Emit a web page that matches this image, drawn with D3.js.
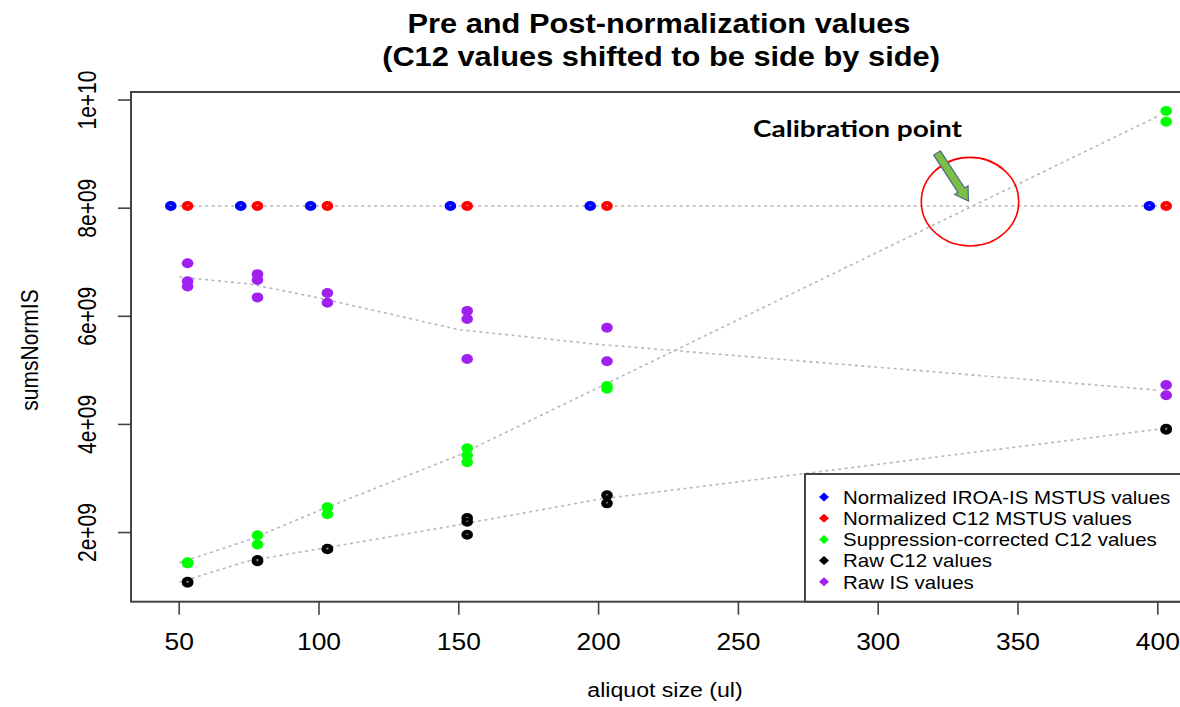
<!DOCTYPE html>
<html>
<head>
<meta charset="utf-8">
<script src="https://cdn.jsdelivr.net/npm/d3@7"></script>
<style>
  html, body { margin: 0; padding: 0; background: #fff; }
  svg { display: block; font-family: "Liberation Sans", Arial, sans-serif; }
</style>
</head>
<body>
<svg id="chart" width="1180" height="707"></svg>
<script>
// ---------------- data ----------------
const xValues = [50, 75, 100, 150, 200, 400];
const shiftIS = -3;   // IROA-IS points drawn shifted left
const shiftC12 = 3;   // C12 points drawn shifted right

const normIROA = [8.04e9, 8.04e9, 8.04e9, 8.04e9, 8.04e9, 8.04e9];
const normC12  = [8.04e9, 8.04e9, 8.04e9, 8.04e9, 8.04e9, 8.04e9];
const supprC12 = [[1.43e9, 1.45e9], [1.95e9, 1.78e9], [2.47e9, 2.34e9], [3.56e9, 3.43e9, 3.30e9], [4.71e9, 4.66e9], [9.80e9, 9.60e9]];
const rawC12   = [[1.07e9, 1.09e9], [1.47e9, 1.49e9], [1.69e9, 1.70e9], [2.27e9, 2.20e9, 1.96e9], [2.69e9, 2.54e9], [3.90e9, 3.92e9]];
const rawIS    = [[6.98e9, 6.65e9, 6.55e9], [6.78e9, 6.67e9, 6.35e9], [6.43e9, 6.25e9], [6.10e9, 5.95e9, 5.21e9], [5.79e9, 5.17e9], [4.73e9, 4.54e9]];

const xTicks = [50, 100, 150, 200, 250, 300, 350, 400];
const yTicks = [2e9, 4e9, 6e9, 8e9, 1e10];
const yTickLabels = ["2e+09", "4e+09", "6e+09", "8e+09", "1e+10"];

const legendLabels = ["Normalized IROA-IS MSTUS values", "Normalized C12 MSTUS values", "Suppression-corrected C12 values", "Raw C12 values", "Raw IS values"];
const legendColors = ["#0000FF", "#FF0000", "#00FF00", "#000000", "#A020F0"];

const titleLines = ["Pre and Post-normalization values", "(C12 values shifted to be side by side)"];
const xLabel = "aliquot size (ul)";
const yLabel = "sumsNormIS";
const annotation = "Calibration point";
const calibX = 333, calibY = 8.04e9;

// ---------------- layout ----------------
const SX = 1.1; // horizontal stretch of the reference picture
const plot = { left: 131, right: 1206, top: 92, bottom: 601.7 };

const svg = d3.select("#chart");

// R-like 4% padded domains
const allPointX = xValues.map(v => v + shiftIS).concat(xValues.map(v => v + shiftC12));
const allY = normIROA.concat(normC12, supprC12.flat(), rawC12.flat(), rawIS.flat());
function padExtent(arr) {
  const e = d3.extent(arr); const p = (e[1] - e[0]) * 0.04; return [e[0] - p, e[1] + p];
}
const x = d3.scaleLinear().domain(padExtent(allPointX)).range([plot.left, plot.right]);
const y = d3.scaleLinear().domain(padExtent(allY)).range([plot.bottom, plot.top]);

function stext(g, str, px, py, opts = {}) {
  const sx = opts.sx || SX;
  const t = g.append("text")
    .attr("transform", `translate(${px},${py}) scale(${sx},1)` + (opts.rotate ? ` rotate(${opts.rotate})` : ""))
    .attr("text-anchor", opts.anchor || "middle")
    .attr("font-size", opts.size || 20)
    .attr("font-weight", opts.weight || "normal")
    .attr("fill", opts.fill || "#000")
    .text(str);
  if (opts.family) t.attr("font-family", opts.family);
  return t;
}

// ---------------- guide lines (means) ----------------
const lineColor = "#b8b8b8";
const dash = "3,3.5";
const line = d3.line().x(d => x(d[0])).y(d => y(d[1]));
const meanSeries = [
  xValues.map((v, i) => [v, (normIROA[i] + normC12[i]) / 2]),
  xValues.map((v, i) => [v, d3.mean(supprC12[i])]),
  xValues.map((v, i) => [v, d3.mean(rawC12[i])]),
  xValues.map((v, i) => [v, d3.mean(rawIS[i])])
];
const clipId = "plotclip";
svg.append("clipPath").attr("id", clipId).append("rect")
  .attr("x", plot.left).attr("y", plot.top).attr("width", plot.right - plot.left).attr("height", plot.bottom - plot.top);
const gLines = svg.append("g").attr("clip-path", `url(#${clipId})`);
meanSeries.forEach(s => {
  gLines.append("path").attr("d", line(s)).attr("fill", "none")
    .attr("stroke", lineColor).attr("stroke-width", 1.6).attr("stroke-dasharray", dash);
});

// ---------------- points ----------------
const gPts = svg.append("g");
function drawPoints(values, shift, color, spot) {
  const pts = [];
  values.forEach((v, i) => {
    (Array.isArray(v) ? v : [v]).forEach(val => pts.push([xValues[i] + shift, val]));
  });
  gPts.selectAll(null).data(pts).enter().append("ellipse")
    .attr("cx", d => x(d[0])).attr("cy", d => y(d[1]))
    .attr("rx", 5.8).attr("ry", 5.0).attr("fill", color);
  if (spot) {
    gPts.selectAll(null).data(pts).enter().append("ellipse")
      .attr("cx", d => x(d[0])).attr("cy", d => y(d[1]) - 0.5)
      .attr("rx", 1.3).attr("ry", 0.8).attr("fill", "#fff").attr("opacity", 0.45);
  }
}
drawPoints(rawIS, shiftC12, legendColors[4], false);
drawPoints(supprC12, shiftC12, legendColors[2], false);
drawPoints(rawC12, shiftC12, legendColors[3], true);
drawPoints(normIROA, shiftIS, legendColors[0], true);
drawPoints(normC12, shiftC12, legendColors[1], true);

// ---------------- frame & axes ----------------
const frameColor = "#444";
svg.append("rect").attr("x", plot.left).attr("y", plot.top)
  .attr("width", plot.right - plot.left).attr("height", plot.bottom - plot.top)
  .attr("fill", "none").attr("stroke", frameColor).attr("stroke-width", 2);

const gx = svg.append("g");
xTicks.forEach(t => {
  gx.append("line").attr("x1", x(t)).attr("x2", x(t)).attr("y1", plot.bottom).attr("y2", plot.bottom + 13)
    .attr("stroke", frameColor).attr("stroke-width", 1.6);
  stext(gx, String(t), x(t), 650, { size: 24 });
});
const gy = svg.append("g");
yTicks.forEach((t, i) => {
  gy.append("line").attr("x1", plot.left - 13).attr("x2", plot.left).attr("y1", y(t)).attr("y2", y(t))
    .attr("stroke", frameColor).attr("stroke-width", 1.6);
  stext(gy, yTickLabels[i], 96, y(t), { size: 21, rotate: -90, sx: 1.25 });
});

// axis titles
stext(svg, xLabel, 665, 697, { size: 21 });
stext(svg, yLabel, 38, 350, { size: 21, rotate: -90 });

// title
stext(svg, titleLines[0], 659, 33, { size: 28, weight: "bold" });
stext(svg, titleLines[1], 661, 66, { size: 28, weight: "bold" });

// ---------------- legend ----------------
const lg = svg.append("g");
lg.append("rect").attr("x", 805).attr("y", 474).attr("width", 400).attr("height", plot.bottom - 474)
  .attr("fill", "#fff").attr("stroke", frameColor).attr("stroke-width", 2);
legendLabels.forEach((lab, i) => {
  const cy = 497 + i * 21.2;
  lg.append("path").attr("d", `M824,${cy - 4.5}L829,${cy}L824,${cy + 4.5}L819,${cy}Z`).attr("fill", legendColors[i]);
  stext(lg, lab, 843, cy + 6.8, { size: 18.6, anchor: "start" });
});

// ---------------- annotation ----------------
const ga = svg.append("g");
ga.append("text").attr("x", 753).attr("y", 137).attr("font-family", "Lato, 'Open Sans', sans-serif")
  .attr("font-weight", "bold").attr("font-size", 23).attr("textLength", 209).attr("lengthAdjust", "spacingAndGlyphs")
  .text(annotation);
ga.append("ellipse").attr("cx", 970).attr("cy", 201.7).attr("rx", 48.7).attr("ry", 44.3)
  .attr("fill", "none").attr("stroke", "#FF0000").attr("stroke-width", 1.6);
// block arrow pointing at the calibration point
(function () {
  const tip = [x(calibX) - 2, y(calibY) - 5];
  const tail = [937, 153];
  const dx = tip[0] - tail[0], dy = tip[1] - tail[1];
  const L = Math.hypot(dx, dy), ux = dx / L, uy = dy / L, nx = -uy, ny = ux;
  const sw = 4, hw = 8, hl = 13;
  const b = [tip[0] - ux * hl, tip[1] - uy * hl];
  const pts = [
    [tail[0] + nx * sw, tail[1] + ny * sw], [b[0] + nx * sw, b[1] + ny * sw], [b[0] + nx * hw, b[1] + ny * hw],
    tip, [b[0] - nx * hw, b[1] - ny * hw], [b[0] - nx * sw, b[1] - ny * sw], [tail[0] - nx * sw, tail[1] - ny * sw]
  ];
  ga.append("path").attr("d", "M" + pts.map(p => p.join(",")).join("L") + "Z")
    .attr("fill", "#7DBE45").attr("stroke", "#4A6A8C").attr("stroke-width", 1.2);
})();
</script>
</body>
</html>
